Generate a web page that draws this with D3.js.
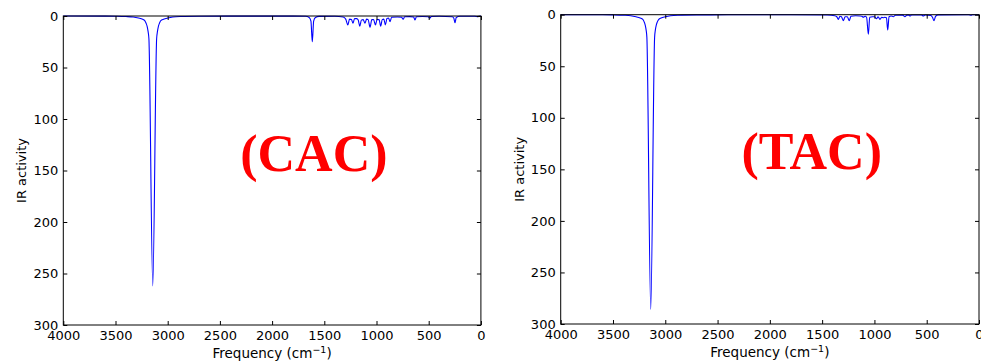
<!DOCTYPE html>
<html>
<head>
<meta charset="utf-8">
<script src="https://cdn.jsdelivr.net/npm/d3@7"></script>
<style>
  body { margin: 0; background: #fff; }
  svg { display: block; }
  text { font-family: "DejaVu Sans", sans-serif; }
</style>
</head>
<body>
<svg id="chart" width="981" height="364"></svg>
<script>
// Frequency (cm^-1) and IR activity, high to low frequency
const cacSpectrum = [
  [4000, 0], [3600, 0.1], [3500, 0.2], [3400, 0.5], [3330, 1], [3280, 2], [3240, 3.2],
  [3220, 4.5], [3207, 7], [3197, 10], [3188, 15], [3180, 22], [3143, 262], [3106, 22],
  [3098, 15], [3089, 10], [3079, 7], [3066, 4.5], [3040, 3.2], [3000, 2], [2950, 1],
  [2880, 0.5], [2700, 0.2], [2400, 0.1], [1800, 0.1],
  [1680, 0.3], [1645, 1.5], [1628, 5], [1615, 25], [1602, 5], [1585, 1.5], [1550, 0.4],
  [1400, 0.3], [1320, 1], [1295, 3], [1275, 8.7], [1258, 3], [1240, 3.5], [1225, 7],
  [1210, 2.5], [1190, 2.5], [1175, 4], [1160, 10], [1145, 4], [1128, 3.5], [1110, 7],
  [1095, 3], [1080, 3.5], [1062, 11], [1045, 3.5], [1028, 3.5], [1010, 8.7], [995, 3.5],
  [975, 3.5], [960, 10], [945, 3.5], [930, 3], [915, 8.7], [900, 2.5], [885, 2],
  [870, 5.5], [855, 1.2], [800, 1], [760, 1.2], [745, 3.2], [730, 0.8], [680, 0.6],
  [645, 1], [631, 3.9], [618, 0.7], [560, 0.5], [505, 0.7], [490, 2.2], [475, 0.5],
  [400, 0.3], [275, 0.8], [260, 2], [248, 6.5], [236, 1.5], [200, 0.3], [60, 0.2],
  [40, 0.5], [30, 0.7], [20, 0.2], [0, 0]
];

const tacSpectrum = [
  [4000, 0], [3600, 0.1], [3500, 0.2], [3400, 0.5], [3330, 1], [3280, 2], [3240, 3.2],
  [3215, 4.5], [3202, 7], [3192, 10], [3183, 15], [3176, 22], [3139, 286], [3102, 22],
  [3095, 15], [3086, 10], [3076, 7], [3062, 4.5], [3040, 3.2], [3000, 2], [2950, 1],
  [2880, 0.5], [2700, 0.2], [2400, 0.1], [1800, 0.05],
  [1450, 0.3], [1380, 1], [1360, 2], [1345, 4.5], [1330, 1.5], [1315, 2], [1298, 5.8],
  [1280, 2], [1260, 2], [1240, 5.8], [1225, 1.5], [1180, 1], [1140, 1.2], [1120, 1.5],
  [1106, 2.5], [1090, 1.5], [1075, 2.5], [1058, 19], [1045, 2.5], [1020, 2], [1000, 2],
  [980, 4], [965, 2], [947, 4.5], [930, 2.5], [915, 3], [900, 2.5], [885, 3],
  [873, 14.8], [860, 2], [840, 1.2], [819, 2], [800, 0.5], [730, 0.4], [708, 2],
  [690, 0.4], [670, 0.4], [660, 1.3], [645, 0.3], [550, 0.3], [533, 1.3], [515, 0.3],
  [460, 0.8], [445, 2.5], [430, 5.8], [415, 1.5], [390, 0.2], [100, 0.1], [75, 0.6],
  [65, 0.1], [0, 0]
];

const freqTicks = [4000, 3500, 3000, 2500, 2000, 1500, 1000, 500, 0];
const irTicks = [0, 50, 100, 150, 200, 250, 300];
const panelLabels = ["(CAC)", "(TAC)"];

const svg = d3.select("#chart");

const panels = [
  { data: cacSpectrum, label: panelLabels[0], left: 63.3, right: 480.9, top: 16, bottom: 325 },
  { data: tacSpectrum, label: panelLabels[1], left: 560.7, right: 979, top: 14.7, bottom: 324 }
];

panels.forEach(p => {
  const x = d3.scaleLinear().domain([4000, 0]).range([p.left, p.right]);
  const y = d3.scaleLinear().domain([0, 300]).range([p.top, p.bottom]);
  const g = svg.append("g");

  // spectrum
  g.append("path")
    .datum(p.data)
    .attr("fill", "none")
    .attr("stroke", "#0000ff")
    .attr("stroke-width", 1.1)
    .attr("d", d3.line().x(d => x(d[0])).y(d => y(d[1])).curve(d3.curveMonotoneX));

  // axes, ticks pointing inward
  g.append("g")
    .attr("transform", `translate(0,${p.bottom})`)
    .call(d3.axisBottom(x).tickValues(freqTicks).tickFormat(d3.format("d")).tickSize(-4).tickPadding(6));
  g.append("g")
    .attr("transform", `translate(${p.left},0)`)
    .call(d3.axisLeft(y).tickValues(irTicks).tickFormat(d3.format("d")).tickSize(-4).tickPadding(5));
  g.append("g")
    .attr("transform", `translate(0,${p.top})`)
    .call(d3.axisTop(x).tickValues(freqTicks).tickSize(-4).tickFormat(""));
  g.append("g")
    .attr("transform", `translate(${p.right},0)`)
    .call(d3.axisRight(y).tickValues(irTicks).tickSize(-4).tickFormat(""));

  g.selectAll(".domain").remove();
  g.selectAll(".tick line").attr("stroke", "#000");
  g.selectAll(".tick text")
    .attr("fill", "#000")
    .style("font-size", "13px")
    .style("font-family", "'DejaVu Sans', sans-serif");

  g.append("rect")
    .attr("x", p.left).attr("y", p.top)
    .attr("width", p.right - p.left).attr("height", p.bottom - p.top)
    .attr("fill", "none").attr("stroke", "#000").attr("stroke-width", 1);

  // axis titles
  const xt = g.append("text")
    .attr("x", (p.left + p.right) / 2)
    .attr("y", p.bottom + 33)
    .attr("text-anchor", "middle")
    .style("font-size", "13.5px");
  xt.append("tspan").text("Frequency (cm");
  xt.append("tspan").text("\u22121").attr("dy", -5).style("font-size", "9.5px");
  xt.append("tspan").text(")").attr("dy", 5);

  g.append("text")
    .attr("transform", `translate(${p.left - 37},${(p.top + p.bottom) / 2}) rotate(-90)`)
    .attr("text-anchor", "middle")
    .style("font-size", "13px")
    .text("IR activity");

  // panel tag
  g.append("text")
    .attr("x", x(1600))
    .attr("y", y(150))
    .attr("text-anchor", "middle")
    .attr("fill", "#ff0000")
    .style("font-family", "'Liberation Serif', 'Times New Roman', serif")
    .style("font-weight", "bold")
    .style("font-size", "52px")
    .text(p.label);
});
</script>
</body>
</html>
